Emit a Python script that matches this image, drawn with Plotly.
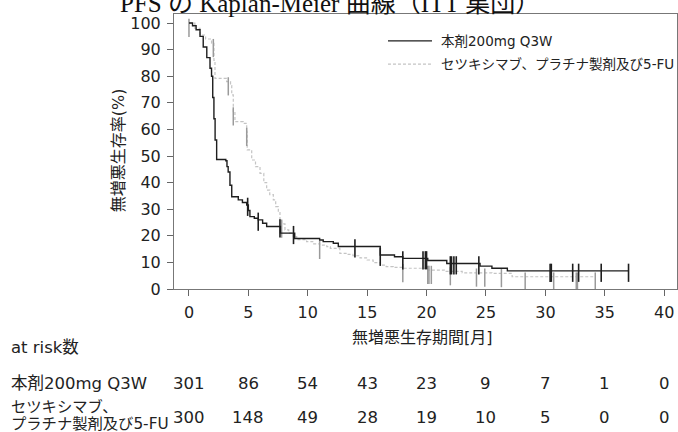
import numpy as np
import plotly.graph_objects as go

# KM curve of 本剤 (time in months, survival %)
pem_t = [0, 0.3, 0.6, 0.93, 1.2, 1.5, 1.77, 1.9, 2.0, 2.1, 2.2, 2.33, 3.1, 3.2, 3.3, 3.45, 3.6,
         4.15, 4.5, 4.86, 5.0, 5.13, 5.5, 5.83, 6.2, 6.54, 7.7, 8.9, 10.3, 11.0, 11.3, 12.15,
         12.57, 16.1, 17.3, 18.0, 20.1, 21.7, 24.5, 25.5, 26.8, 37.0]
pem_s = [100, 99, 97.5, 95, 91, 87, 83, 80, 72, 64, 56, 48.7, 48.2, 46, 44, 39, 34.7,
         33.5, 32.5, 31.6, 29.5, 27.2, 26.6, 26, 24.7, 23.5, 21, 19, 19, 18.4, 17.8, 17.2,
         16.0, 12.8, 12.1, 11.5, 10.7, 9.6, 8.6, 7.8, 6.8, 6.8]
pem_cens = [4.94, 5.83, 7.66, 8.8, 13.97, 16.1, 18.0, 19.7, 19.9, 20.0, 22.0, 22.1, 22.3,
            22.5, 24.4, 30.4, 30.5, 32.3, 32.8, 34.7, 37.0]

# KM curve of セツキシマブ、プラチナ製剤及び5-FU
chemo_t = [0, 0.5, 0.93, 1.4, 1.9, 2.1, 2.19, 3.17, 3.5, 3.6, 3.73, 3.87, 4.57, 4.86, 4.9,
           5.28, 5.6, 5.98, 6.3, 6.54, 6.8, 7.1, 7.3, 7.52, 7.66, 7.8, 8.08, 8.4, 8.78, 9.07,
           9.9, 10.5, 11.0, 11.6, 11.9, 12.7, 13.3, 13.8, 14.4, 15.0, 15.5, 16.1, 16.6, 17.2,
           18.0, 20.1, 21.5, 23.0, 25.5, 27.2, 34.2]
chemo_s = [100, 98, 95.5, 94, 92.4, 86, 79.2, 78, 76.5, 73, 66.7, 62.9, 62.3, 59, 52.3,
           48.5, 46, 43.5, 40, 37.2, 35.5, 33.5, 31, 29, 26, 24.5, 22.2, 21, 19.7, 18.6,
           17.8, 17.0, 16.5, 15.9, 15.3, 13.4, 13.0, 12.5, 11.7, 10.9, 9.9, 9.0, 8.4, 8.1,
           7.8, 7.1, 6.6, 6.1, 5.9, 4.6, 4.6]
chemo_cens = [0, 2.05, 3.31, 3.73, 4.86, 7.8, 11.0, 18.0, 20.1, 20.2, 20.4, 22.0, 24.2, 24.9,
              26.3, 28.3, 30.7, 32.6, 32.7, 34.2]

risk_times = [0, 5, 10, 15, 20, 25, 30, 35, 40]
risk_pem = [301, 86, 54, 43, 23, 9, 7, 1, 0]
risk_chemo = [300, 148, 49, 28, 19, 10, 5, 0, 0]

name_pem = "本剤200mg Q3W"
name_chemo = "セツキシマブ、プラチナ製剤及び5-FU"
chemo_row_lines = ["セツキシマブ、", "プラチナ製剤及び5-FU"]

FONT = "DejaVu Sans, Noto Sans CJK JP, sans-serif"
BLACK = "#1e1e1e"
LIGHT = "#c4c4c4"
CENS_GRAY = "#9a9a9a"
TXT = "#222"


def step_value(ts, ss, t):
    i = np.searchsorted(ts, t, side="right") - 1
    return ss[max(i, 0)]


fig = go.Figure()

fig.add_trace(go.Scatter(x=chemo_t, y=chemo_s, mode="lines", line_shape="hv",
                         line=dict(color=LIGHT, width=1.2, dash="3px,2px"), showlegend=False))
fig.add_trace(go.Scatter(x=chemo_cens, y=[step_value(chemo_t, chemo_s, t) - 1.8 for t in chemo_cens],
                         mode="markers", showlegend=False,
                         marker=dict(symbol="line-ns", size=13, line=dict(color=CENS_GRAY, width=1.5))))
fig.add_trace(go.Scatter(x=pem_t, y=pem_s, mode="lines", line_shape="hv",
                         line=dict(color=BLACK, width=1.4), showlegend=False))
fig.add_trace(go.Scatter(x=pem_cens, y=[step_value(pem_t, pem_s, t) - 0.7 for t in pem_cens],
                         mode="markers", showlegend=False,
                         marker=dict(symbol="line-ns", size=13, line=dict(color=BLACK, width=1.6))))

fig.update_xaxes(range=[-1.26, 41.08], tickvals=risk_times, ticks="outside", ticklen=6,
                 tickcolor="#666", showline=True, linecolor="#777", mirror=True,
                 showgrid=False, zeroline=False, ticklabelstandoff=3,
                 tickfont=dict(family=FONT, size=16, color=TXT))
fig.update_yaxes(range=[0, 103.4], tickvals=list(range(0, 101, 10)), ticks="outside", ticklen=6,
                 tickcolor="#666", showline=True, linecolor="#777", mirror=True,
                 showgrid=False, zeroline=False, ticklabelstandoff=3,
                 tickfont=dict(family=FONT, size=16, color=TXT))


def note(text, x, y, size, xanchor="left", xref="paper", **kw):
    return dict(text=text, xref=xref, yref="paper", x=x, y=y, showarrow=False,
                xanchor=xanchor, yanchor="middle", font=dict(family=FONT, size=size, color=TXT), **kw)


ann = []
# title (partly cut at the top, as in the source image)
ann.append(dict(text="PFS の Kaplan-Meier 曲線（ITT 集団）", xref="paper", yref="paper",
                x=0.31, y=1.039, xanchor="center", yanchor="middle", showarrow=False,
                font=dict(family="Liberation Serif, Noto Sans CJK JP, serif", size=25, color="#111")))
ann.append(note("無増悪生存率(%)", -0.111, 0.505, 16, xanchor="center", textangle=-90))
ann.append(note("無増悪生存期間[月]", 0.495, -0.178, 16, xanchor="center"))
ann.append(note("at risk数", -0.329, -0.211, 16.5))
ann.append(note(name_pem, -0.329, -0.345, 16.5))
ann.append(note(chemo_row_lines[0], -0.329, -0.429, 15.3))
ann.append(note(chemo_row_lines[1], -0.329, -0.492, 15.3))
for t, a, b in zip(risk_times, risk_pem, risk_chemo):
    ann.append(note(str(a), t, -0.345, 16.5, xanchor="center", xref="x"))
    ann.append(note(str(b), t, -0.468, 16.5, xanchor="center", xref="x"))
# legend
ann.append(note(name_pem, 0.527, 0.902, 13.5))
ann.append(note(name_chemo, 0.527, 0.818, 13.5))

shapes = [
    dict(type="line", xref="paper", yref="paper", x0=0.4254, x1=0.5129, y0=0.902, y1=0.902,
         line=dict(color=BLACK, width=1.2)),
    dict(type="line", xref="paper", yref="paper", x0=0.4254, x1=0.5129, y0=0.818, y1=0.818,
         line=dict(color=LIGHT, width=1.2, dash="3px,2px")),
]

fig.update_layout(width=678, height=432, margin=dict(l=174, r=1, t=14, b=143),
                  paper_bgcolor="white", plot_bgcolor="white",
                  annotations=ann, shapes=shapes, showlegend=False,
                  font=dict(family=FONT, color=TXT))

# the page body has a default 8px margin; drop it so the figure sits at the window corner
fig.write_html("out.html", config={"displayModeBar": False},
               post_script="document.body.style.margin='0px';")
